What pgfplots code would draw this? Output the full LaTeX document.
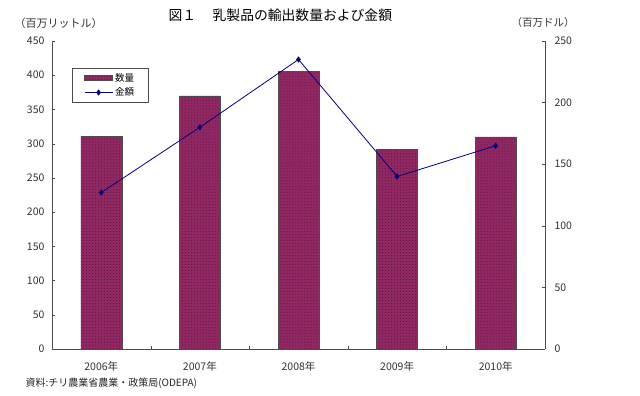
\documentclass[border=0pt]{standalone}
\usepackage{pgfplots}
\pgfplotsset{compat=1.18}
\usepackage{fontspec}
\setmainfont{Noto Sans CJK JP}
\usetikzlibrary{patterns}
\definecolor{barc}{RGB}{145,40,100}
\definecolor{linec}{RGB}{0,0,128}
\pgfplotstableread{
x q v
0.5 311 127
1.5 370 180
2.5 406 235
3.5 292 140
4.5 310 165
}\data
\pgfplotsset{
  common/.style={
    scale only axis, width=493bp, height=308bp,
    xmin=0, xmax=5,
    axis line style={black!70, -},
    tick align=inside, major tick length=3bp, minor tick length=3bp,
    tick style={black!70},
    ticklabel style={font=\fontsize{10.5bp}{12bp}\selectfont, text=black!80},
    /pgf/number format/assume math mode=true,
  },
  lineleg/.style={legend image code/.code={\draw[mark repeat=2,mark phase=2,##1] plot coordinates {(0bp,0bp) (14bp,0bp) (28bp,0bp)};}},
  barleg/.style={legend image code/.code={\fill[barc, draw=black!70] (0bp,-2.5bp) rectangle (28bp,2.5bp);}},
}
\begin{document}
\begin{tikzpicture}
\useasboundingbox (0bp,0bp) rectangle (640bp,396bp);
\fill[white] (0bp,0bp) rectangle (640bp,396bp);
\begin{axis}[
  common, name=ax1,
  at={(52bp,47bp)}, anchor=origin,
  ymin=0, ymax=450,
  axis x line*=bottom, axis y line*=left,
  ytick={0,50,...,450},
  xtick={0.5,1.5,...,4.5},
  xticklabels={2006年,2007年,2008年,2009年,2010年},
  minor xtick={1,2,3,4},
  major x tick style={draw=none},
  yticklabel style={xshift=-4bp},
  xticklabel style={yshift=-9bp},
  legend style={at={(0.0406,0.912)}, anchor=north west, draw=black!70, font=\fontsize{9.5bp}{11bp}\selectfont, inner xsep=12bp, inner ysep=3bp, row sep=1bp},
  legend cell align=left,
]
\addplot[ybar, bar width=41bp, fill=barc, draw=black!70,
  postaction={pattern=dots, pattern color=barc!55!black}, barleg] table[x=x,y=q]{\data};
\addlegendentry{数量}
\addlegendimage{linec, thick, mark=diamond*, mark size=2.5bp, lineleg}
\addlegendentry{金額}
\end{axis}
\begin{axis}[
  common,
  at={(52bp,47bp)}, anchor=origin,
  ymin=0, ymax=250,
  axis x line=none, axis y line*=right,
  ytick={0,50,...,250},
  yticklabel style={xshift=6bp},
]
\addplot[linec, thick, mark=diamond*, mark size=2.5bp] table[x=x,y=v]{\data};
\end{axis}
\node[font=\fontsize{13.8bp}{15bp}\selectfont, anchor=west] at (165bp,381bp) {図１\hspace{1.2em}乳製品の輸出数量および金額};
\node[font=\fontsize{11bp}{13bp}\selectfont, anchor=west, text=black!80] at (11bp,373bp) {（百万リットル）};
\node[font=\fontsize{10.5bp}{12bp}\selectfont, anchor=west, text=black!80] at (508bp,373bp) {（百万ドル）};
\node[font=\fontsize{10bp}{12bp}\selectfont, anchor=west, text=black!85] at (22bp,13bp) {資料:チリ農業省農業・政策局(ODEPA)};
\end{tikzpicture}
\end{document}
